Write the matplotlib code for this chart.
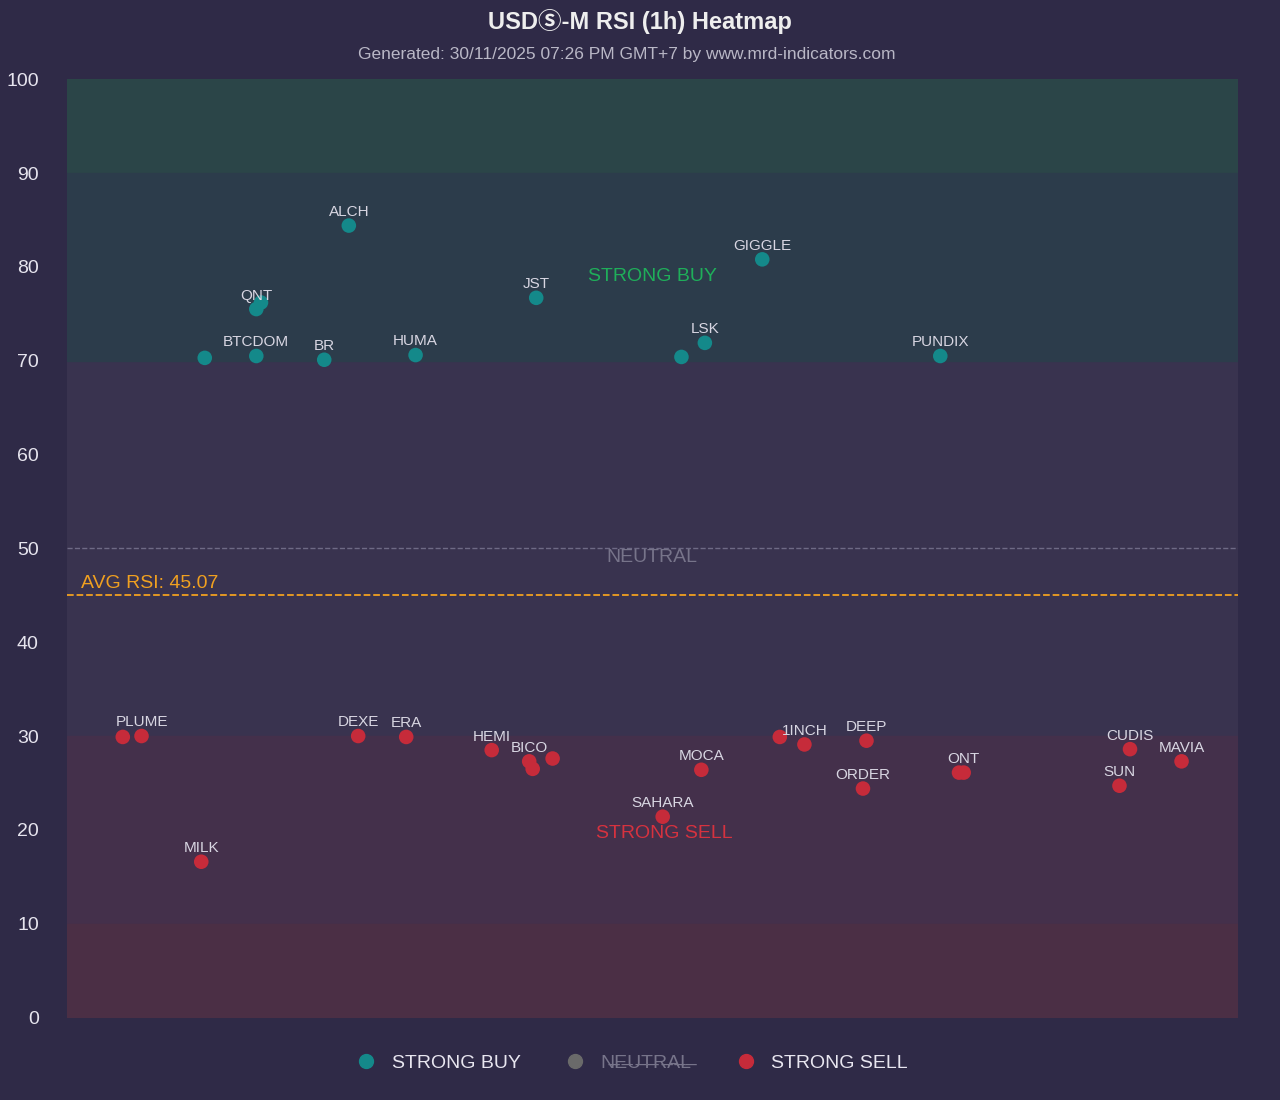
import numpy as np
import matplotlib.pyplot as plt
from matplotlib.lines import Line2D

plt.rcParams['font.family'] = ['Liberation Sans', 'Noto Sans CJK SC', 'DejaVu Sans']


def generate_rsi_heatmap():
    fig, ax = plt.subplots(figsize=(12.8, 11), dpi=100)
    fig.patch.set_facecolor('#2f2a47')
    ax.set_facecolor('#39334f')

    # (x position, rsi, label) -- x is only a spread position
    buys = [
        (11.8, 70.3, ''), (16.2, 70.5, 'BTCDOM'), (16.2, 75.5, 'QNT'), (16.6, 76.2, ''),
        (22.0, 70.1, 'BR'), (24.1, 84.4, 'ALCH'), (29.8, 70.6, 'HUMA'), (40.1, 76.7, 'JST'),
        (52.5, 70.4, ''), (54.5, 71.9, 'LSK'), (59.4, 80.8, 'GIGGLE'), (74.6, 70.5, 'PUNDIX'),
    ]
    sells = [
        (4.8, 29.9, ''), (6.4, 30.0, 'PLUME'), (11.5, 16.6, 'MILK'), (24.9, 30.0, 'DEXE'),
        (29.0, 29.9, 'ERA'), (36.3, 28.5, 'HEMI'), (39.5, 27.3, 'BICO'), (39.8, 26.5, ''),
        (41.5, 27.6, ''), (50.9, 21.4, 'SAHARA'), (54.2, 26.4, 'MOCA'), (60.9, 29.9, ''),
        (63.0, 29.1, '1INCH'), (68.3, 29.5, 'DEEP'), (68.0, 24.4, 'ORDER'), (76.2, 26.1, ''),
        (76.6, 26.1, 'ONT'), (89.9, 24.7, 'SUN'), (90.8, 28.6, 'CUDIS'), (95.2, 27.3, 'MAVIA'),
    ]
    avg_rsi = 45.07
    buy_col = '#14898a'
    sell_col = '#c62b3a'

    # Zone bands
    ax.axhspan(90, 100, color='#2b4548', zorder=0)
    ax.axhspan(70, 90, color='#2c3c4b', zorder=0)
    ax.axhspan(10, 30, color='#44304b', zorder=0)
    ax.axhspan(0, 10, color='#4b2f45', zorder=0)

    ax.axhline(50, color='#6e6a85', lw=1, ls='--')
    ax.axhline(avg_rsi, color='#f0a020', lw=1.3, ls='--')
    ax.text(1.2, avg_rsi + 0.3, f"AVG RSI: {avg_rsi:.2f}", color='#f0a020', fontsize=14, va='bottom')

    ax.text(50, 79, "STRONG BUY", color='#1fae5a', fontsize=14, ha='center', va='center')
    ax.text(50, 49, "NEUTRAL", color='#77748a', fontsize=14, ha='center', va='center')
    ax.text(51, 19.6, "STRONG SELL", color='#d6323f', fontsize=14, ha='center', va='center')

    for pts, col in [(buys, buy_col), (sells, sell_col)]:
        xs = [p[0] for p in pts]
        ys = [p[1] for p in pts]
        ax.scatter(xs, ys, s=110, color=col, edgecolor='none', zorder=3)
        for x, y, lab in pts:
            if lab:
                ax.text(x, y + 0.7, lab, color='#d8d6e2', fontsize=11, ha='center', va='bottom', zorder=4)

    ax.set_xlim(0, 100)
    ax.set_ylim(0, 100)
    ax.set_xticks([])
    ax.set_yticks(np.arange(0, 101, 10))
    ax.tick_params(axis='y', length=0, labelsize=14, colors='#e6e4ee', pad=20)
    for s in ax.spines.values():
        s.set_visible(False)

    fig.suptitle("USDⓈ-M RSI (1h) Heatmap", y=0.992, fontsize=17, fontweight='bold', color='#eeeeee')
    fig.text(0.49, 0.946, "Generated: 30/11/2025 07:26 PM GMT+7 by www.mrd-indicators.com",
             ha='center', fontsize=12.5, color='#b9b7c6')

    legend_elements = [
        Line2D([0], [0], marker='o', ls='none', color=buy_col, markersize=10, label='STRONG BUY'),
        Line2D([0], [0], marker='o', ls='none', color='#6a6a6a', markersize=10, label='NEUTRAL'),
        Line2D([0], [0], marker='o', ls='none', color=sell_col, markersize=10, label='STRONG SELL'),
    ]
    leg = fig.legend(handles=legend_elements, loc='lower center', ncol=3, frameon=False,
                     fontsize=14, bbox_to_anchor=(0.49, 0.01), handletextpad=0.3, columnspacing=1.8)
    for t in leg.get_texts():
        t.set_color('#e8e6f0')
    leg.get_texts()[1].set_color('#77748a')
    leg.get_texts()[1].set_text('N̶E̶U̶T̶R̶A̶L̶')

    plt.subplots_adjust(left=0.052, right=0.967, top=0.928, bottom=0.075)
    plt.savefig('out.png', dpi=100, facecolor=fig.get_facecolor())
    plt.close()


if __name__ == "__main__":
    generate_rsi_heatmap()
